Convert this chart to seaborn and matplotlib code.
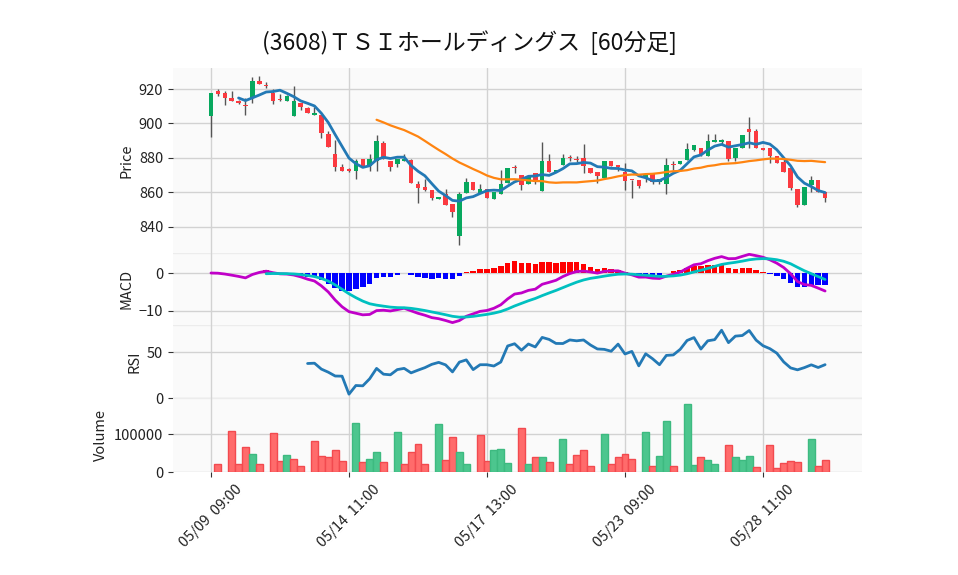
import numpy as np
import pandas as pd
import matplotlib
matplotlib.use("Agg")
import matplotlib.pyplot as plt
import seaborn as sns

# ---------------- data ----------------
title = "(3608)ＴＳＩホールディングス  [60分足]"
days = ["05/09", "05/10", "05/13", "05/14", "05/15", "05/16", "05/17", "05/20",
        "05/21", "05/22", "05/23", "05/24", "05/27", "05/28", "05/29"]
hours = ["09:00", "10:00", "11:00", "12:00", "13:00", "14:00"]

opens = [904.5, 919.0, 917.6, 914.7, 913.1, 910.8, 914.7, 924.9, 922.0, 917.6,
         913.9, 913.3, 904.5, 912.0, 909.0, 904.7, 904.9, 893.7, 882.5, 874.9,
         873.7, 872.2, 879.4, 875.5, 878.0, 888.8, 878.4, 876.5, 878.0, 879.0,
         864.9, 862.9, 861.4, 855.9, 858.8, 853.1, 834.5, 859.8, 866.3, 859.4,
         861.8, 855.9, 858.8, 865.7, 874.2, 870.0, 864.9, 871.2, 861.0, 878.4,
         871.6, 875.7, 880.0, 879.2, 880.0, 874.1, 872.0, 868.6, 878.4, 875.9,
         871.8, 867.2, 867.3, 868.2, 870.8, 865.9, 864.7, 876.1, 876.7, 879.0,
         884.9, 885.9, 881.0, 889.2, 889.2, 889.8, 880.0, 885.9, 896.7, 895.7,
         885.9, 885.5, 881.4, 877.5, 874.1, 862.0, 852.9, 864.3, 867.3, 860.0]
highs = [917.6, 919.8, 919.0, 918.8, 913.5, 914.7, 926.9, 927.5, 924.0, 920.0,
         917.0, 916.3, 921.6, 912.0, 909.8, 909.8, 904.9, 895.5, 890.6, 876.5,
         874.0, 879.2, 879.6, 882.2, 893.5, 889.8, 878.4, 879.4, 882.4, 879.4,
         866.9, 867.8, 861.4, 857.6, 861.8, 853.1, 860.2, 868.2, 866.3, 864.7,
         861.8, 860.4, 873.1, 874.3, 876.1, 870.0, 869.2, 871.2, 889.4, 882.5,
         873.1, 882.5, 882.0, 881.0, 888.2, 874.1, 872.0, 878.4, 878.4, 875.9,
         877.1, 867.2, 867.3, 871.2, 870.8, 867.6, 880.0, 878.0, 878.4, 888.4,
         887.3, 885.9, 893.7, 894.1, 891.2, 889.8, 885.9, 893.3, 903.5, 896.7,
         885.9, 885.5, 881.4, 880.0, 874.1, 862.0, 862.9, 869.8, 867.3, 860.0]
lows = [892.4, 916.0, 910.8, 913.0, 911.5, 905.0, 911.8, 922.9, 920.6, 911.4,
        913.0, 913.3, 904.5, 907.6, 906.3, 904.7, 891.8, 886.3, 872.2, 872.2,
        872.0, 868.0, 875.5, 872.5, 872.2, 879.4, 872.2, 874.5, 878.0, 865.5,
        854.1, 861.0, 855.5, 855.9, 852.7, 845.7, 829.4, 859.8, 861.4, 859.4,
        856.9, 855.9, 858.8, 865.7, 871.2, 861.4, 864.9, 864.9, 861.0, 871.6,
        871.6, 875.7, 878.0, 877.5, 871.2, 871.2, 865.7, 868.6, 875.5, 872.2,
        861.4, 857.0, 862.4, 866.3, 864.9, 864.9, 859.0, 873.1, 876.7, 879.0,
        883.9, 881.0, 881.0, 889.2, 888.2, 878.4, 878.0, 885.9, 885.9, 885.9,
        884.9, 877.0, 877.1, 871.6, 861.4, 851.6, 852.9, 860.4, 860.0, 854.5]
closes = [917.6, 917.0, 914.7, 913.0, 911.8, 910.0, 924.9, 922.9, 921.8, 913.3,
          913.7, 915.9, 913.1, 909.6, 906.3, 906.1, 894.5, 886.3, 874.5, 872.2,
          872.2, 878.2, 875.5, 879.4, 889.6, 879.4, 874.5, 879.4, 879.4, 865.6,
          862.7, 861.2, 856.7, 857.6, 852.7, 848.6, 859.0, 866.1, 861.4, 861.8,
          856.9, 860.4, 864.9, 874.3, 874.0, 864.3, 869.2, 865.9, 878.4, 871.6,
          873.1, 880.0, 879.8, 879.0, 875.1, 871.2, 869.6, 878.4, 875.5, 874.7,
          866.9, 867.0, 863.9, 870.0, 865.9, 867.6, 876.1, 875.9, 878.4, 885.3,
          887.3, 882.0, 889.6, 890.2, 890.2, 879.4, 885.9, 893.3, 895.1, 885.9,
          884.9, 881.0, 877.1, 871.6, 862.7, 852.5, 862.9, 867.3, 860.0, 856.9]
volumes = [0, 23000, 0, 109000, 21000, 65000, 47000, 21000, 0, 103000,
           29000, 45000, 35000, 16000, 0, 82000, 42000, 40000, 58000, 29000,
           0, 130000, 27000, 35000, 53000, 27000, 0, 106000, 23000, 53000,
           74000, 23000, 0, 127000, 32000, 93000, 53000, 21000, 0, 98000,
           29000, 58000, 61000, 24000, 0, 115000, 21000, 40000, 40000, 26000,
           0, 88000, 21000, 45000, 58000, 16000, 0, 101000, 21000, 40000,
           48000, 35000, 0, 106000, 16000, 42000, 135000, 16000, 0, 178000,
           19000, 40000, 32000, 21000, 0, 72000, 40000, 32000, 42000, 13000,
           0, 72000, 11000, 24000, 29000, 27000, 0, 88000, 16000, 32000]
# volume bar colour: u = up (green), d = down (red), - = no bar
vol_dirs = ["-", "d", "-", "d", "d", "d", "u", "d", "-", "d",
            "d", "u", "d", "d", "-", "d", "d", "d", "d", "d",
            "-", "u", "d", "u", "u", "d", "-", "u", "d", "d",
            "d", "d", "-", "u", "d", "d", "u", "u", "-", "d",
            "d", "u", "u", "u", "-", "d", "u", "d", "u", "d",
            "-", "u", "d", "d", "d", "d", "-", "u", "d", "d",
            "d", "d", "-", "u", "d", "u", "u", "d", "-", "u",
            "u", "d", "u", "u", "-", "d", "u", "u", "u", "d",
            "-", "d", "d", "d", "d", "d", "-", "u", "d", "d"]

# ---------------- build frame ----------------
labels = [f"{d}  {h}" for d in days for h in hours]
n = len(closes)
df = pd.DataFrame({"x": np.arange(n), "open": opens, "high": highs, "low": lows,
                   "close": closes, "volume": volumes, "vdir": vol_dirs})
c = df["close"]
df["ma5"] = c.rolling(5).mean()
df["ma25"] = c.rolling(25).mean()
ema12 = c.ewm(span=12, adjust=False).mean()
ema26 = c.ewm(span=26, adjust=False).mean()
df["macd"] = ema12 - ema26
sig = df["macd"].ewm(span=9, adjust=False).mean()
sig[:8] = np.nan
df["signal"] = sig
df["hist"] = df["macd"] - df["signal"]
delta = c.diff()
up = delta.clip(lower=0).rolling(14).mean()
dn = (-delta.clip(upper=0)).rolling(14).mean()
df["rsi"] = 100 * up / (up + dn)

# ---------------- style ----------------
sns.set_theme(style="whitegrid")
plt.rcParams["font.family"] = ["Noto Sans CJK JP", "DejaVu Sans"]
plt.rcParams["axes.unicode_minus"] = True

fig = plt.figure(figsize=(9.58, 5.75), dpi=100)
L, W = 0.1806, 0.7192
ax1 = fig.add_axes([L, 0.5605, W, 0.3212])
ax2 = fig.add_axes([L, 0.4343, W, 0.1262], sharex=ax1)
ax3 = fig.add_axes([L, 0.3073, W, 0.1270], sharex=ax1)
ax4 = fig.add_axes([L, 0.1783, W, 0.1290], sharex=ax1)
axes = [ax1, ax2, ax3, ax4]

GREEN = "#07a85e"
RED = "#fb3a40"

# candles
xs = df["x"].values
o = df["open"].values
cl = df["close"].values
upc = cl >= o
ax1.vlines(xs, df["low"], df["high"], color="#555555", linewidth=1.0, zorder=2)
body_b = np.minimum(o, cl)
body_h = np.maximum(np.abs(cl - o), 0.5)
ax1.bar(xs, body_h, bottom=body_b, width=0.65,
        color=[GREEN if u else RED for u in upc], linewidth=0, zorder=3)
sns.lineplot(data=df, x="x", y="ma5", ax=ax1, color="#2379b5", linewidth=2.0, zorder=4, legend=False)
sns.lineplot(data=df, x="x", y="ma25", ax=ax1, color="#ff8410", linewidth=1.6, zorder=4, legend=False)
ax1.set_ylim(825, 932.2)
ax1.set_yticks([840, 860, 880, 900, 920])
ax1.set_ylabel("Price")

# MACD
h = np.nan_to_num(df["hist"].values)
ax2.bar(xs, h, width=0.8,
        color=["#ff0000" if v >= 0 else "#0000ff" for v in h], linewidth=0, zorder=2)
sns.lineplot(data=df, x="x", y="macd", ax=ax2, color="#c000c8", linewidth=2.0, zorder=3, legend=False)
sns.lineplot(data=df, x="x", y="signal", ax=ax2, color="#00c0c0", linewidth=2.0, zorder=4, legend=False)
ax2.set_ylim(-13.9, 5.4)
ax2.set_yticks([-10, 0])
ax2.set_ylabel("MACD")

# RSI
sns.lineplot(data=df, x="x", y="rsi", ax=ax3, color="#2379b5", linewidth=2.0, zorder=3, legend=False)
ax3.set_ylim(0, 79.3)
ax3.set_yticks([0, 50])
ax3.set_ylabel("RSI")

# Volume
vface = {"u": "#4cc68e", "d": "#ff6b6b", "-": "none"}
vedge = {"u": "#3dba80", "d": "#f24a4f", "-": "none"}
ax4.bar(xs, df["volume"], width=1.0,
        color=[vface[d] for d in df["vdir"]],
        edgecolor=[vedge[d] for d in df["vdir"]], linewidth=1.0, zorder=2)
ax4.set_ylim(0, 193000)
ax4.set_yticks([0, 100000])
ax4.set_yticklabels(["0", "100000"])
ax4.set_ylabel("Volume")

tick_idx = list(range(0, n, 20))
ax4.set_xticks(tick_idx)
ax4.set_xticklabels([labels[i] for i in tick_idx], rotation=45, ha="center")
ax1.set_xlim(-5.5, 94.35)

for ax in axes:
    ax.set_facecolor("#fafafa")
    ax.grid(True, color="#d2d2d2", linewidth=1.0)
    ax.set_axisbelow(True)
    for s in ax.spines.values():
        s.set_visible(False)
    ax.set_xlabel("")
    ax.tick_params(axis="y", left=True, length=3.5, width=0.8, color="#333333",
                   labelsize=10.5, labelcolor="#222222", pad=3.5)
    ax.yaxis.label.set_size(10.5)
    ax.yaxis.label.set_color("#222222")
for ax in axes[:3]:
    ax.tick_params(axis="x", bottom=False, labelbottom=False)
ax4.tick_params(axis="x", bottom=True, length=3.5, width=0.8, color="#333333",
                labelsize=10.5, labelcolor="#222222", pad=3.5)
for ax in axes[1:]:
    ax.axhline(ax.get_ylim()[1], color="#ececec", linewidth=1.0, zorder=0)

fig.text(0.49, 1 - 43 / 575, title, ha="center", va="center", fontsize=16.5, color="#111111")

fig.savefig("out.png", dpi=100)
